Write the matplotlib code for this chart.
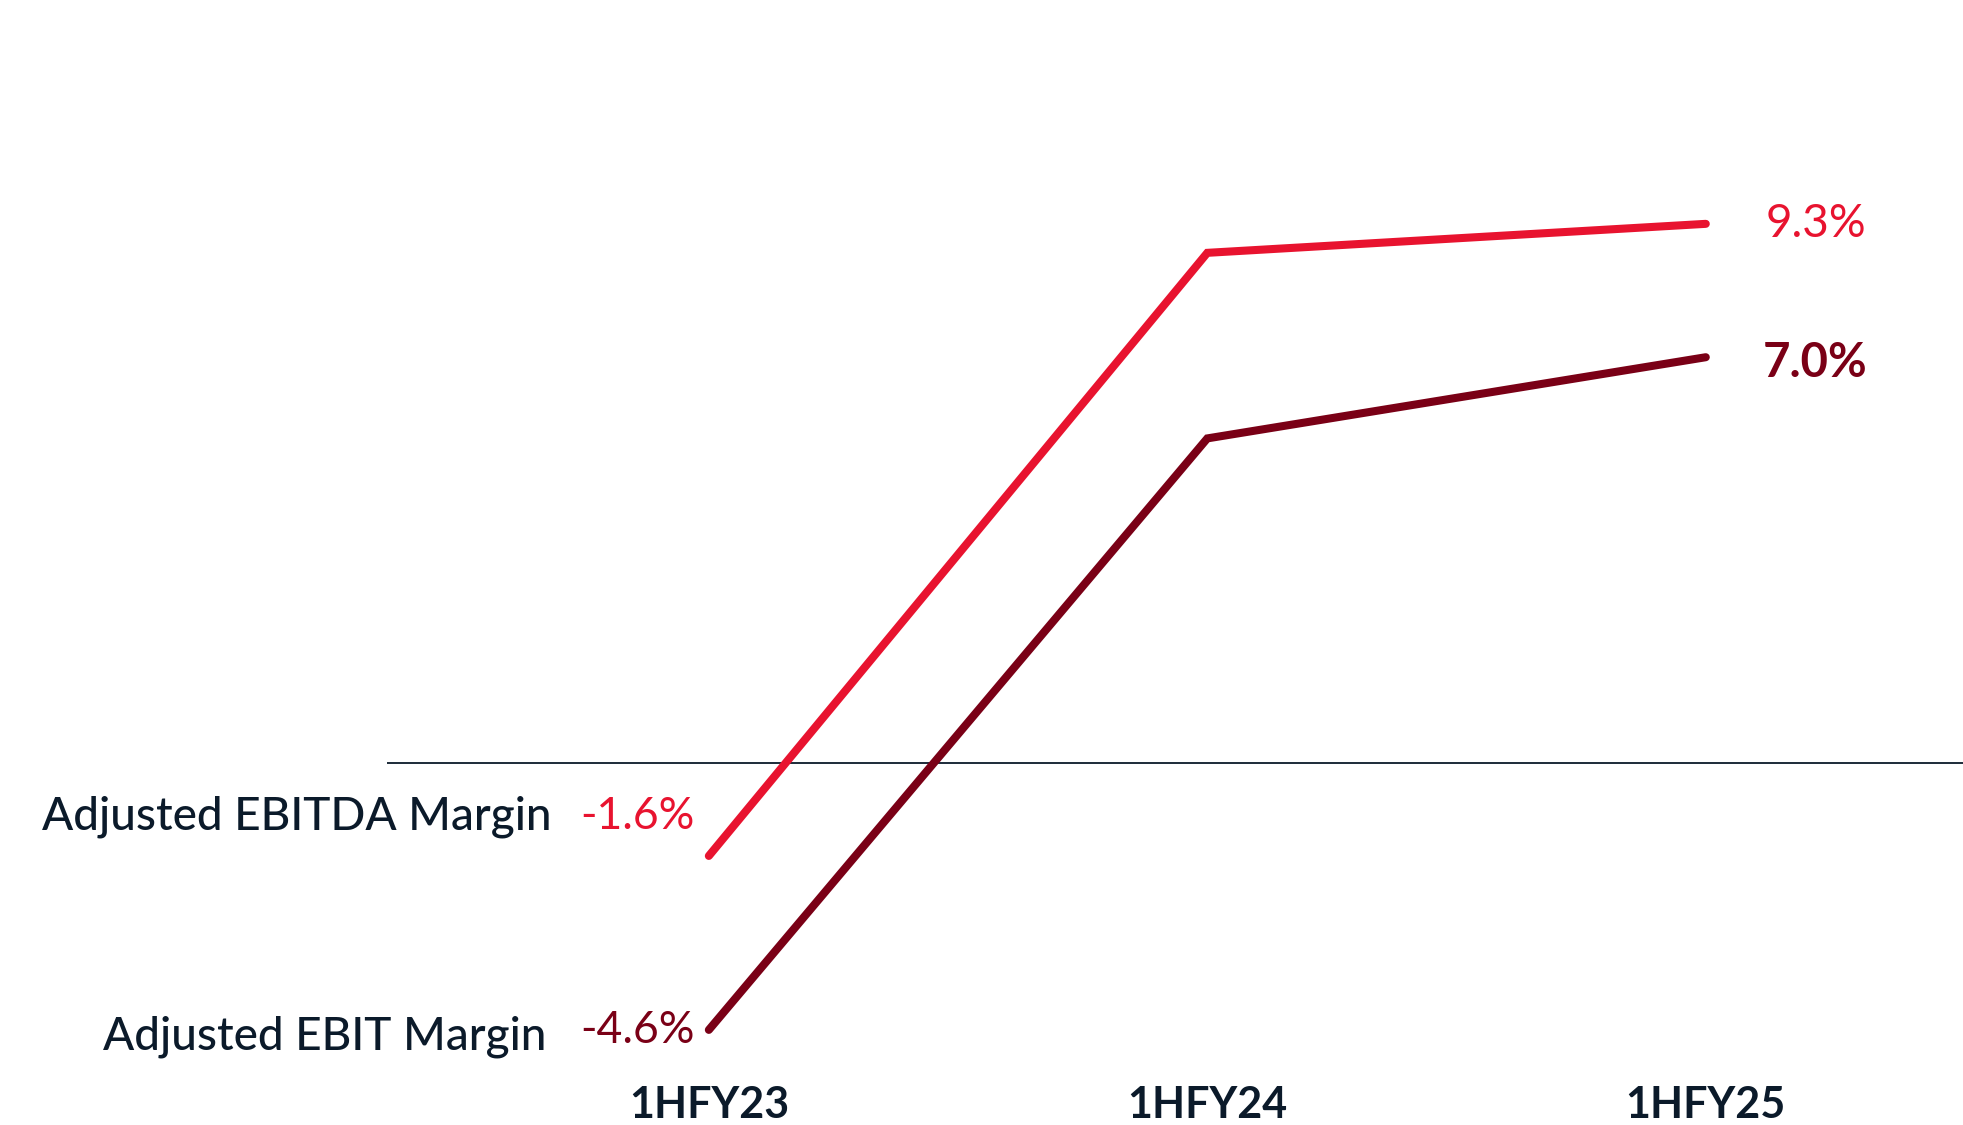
import numpy as np
import matplotlib.pyplot as plt

periods = ['1HFY23', '1HFY24', '1HFY25']
ebitda_margin = [-1.6, 8.8, 9.3]
ebit_margin = [-4.6, 5.6, 7.0]
series_names = ['Adjusted EBITDA Margin', 'Adjusted EBIT Margin']

red = '#E8132F'
dark_red = '#7A0016'
ink = '#0B1A2A'

plt.rcParams['font.family'] = ['Lato', 'DejaVu Sans']

fig = plt.figure(figsize=(19.63, 11.25), dpi=100)
ax = fig.add_axes([0, 0, 1, 1])
ax.set_xlim(-1.422, 2.516)
ax.set_ylim(-6.24, 13.16)
ax.axis('off')

x = np.arange(len(periods))

# zero baseline, starting just left of the first period
ax.plot([-0.646, 2.6], [0, 0], color=ink, lw=1.3, solid_capstyle='butt')

ax.plot(x, ebitda_margin, color=red, lw=5.8, solid_capstyle='round', solid_joinstyle='miter')
ax.plot(x, ebit_margin, color=dark_red, lw=5.8, solid_capstyle='round', solid_joinstyle='miter')

# series names to the left of the first point
ax.annotate(series_names[0], (0, ebitda_margin[0]), xytext=(-157, 39), textcoords='offset pixels',
            ha='right', va='center', fontsize=33, color=ink, fontweight='medium')
ax.annotate(series_names[1], (0, ebit_margin[0]), xytext=(-162, -7), textcoords='offset pixels',
            ha='right', va='center', fontsize=33, color=ink, fontweight='medium')

# value labels for first and last periods
ax.annotate(f'{ebitda_margin[0]:.1f}%', (0, ebitda_margin[0]), xytext=(-14, 39), textcoords='offset pixels',
            ha='right', va='center', fontsize=32, color=red)
ax.annotate(f'{ebit_margin[0]:.1f}%', (0, ebit_margin[0]), xytext=(-14, -1), textcoords='offset pixels',
            ha='right', va='center', fontsize=32, color=dark_red)
ax.annotate(f'{ebitda_margin[-1]:.1f}%', (2, ebitda_margin[-1]), xytext=(60, 0), textcoords='offset pixels',
            ha='left', va='center', fontsize=33, color=red)
ax.annotate(f'{ebit_margin[-1]:.1f}%', (2, ebit_margin[-1]), xytext=(57, -6), textcoords='offset pixels',
            ha='left', va='center', fontsize=34, color=dark_red, fontweight='bold')

# period labels along the bottom
for i, p in enumerate(periods):
    ax.text(i, -5.9, p, ha='center', va='center', fontsize=31, color=ink, fontweight='bold')

fig.savefig('out.png', dpi=100)
